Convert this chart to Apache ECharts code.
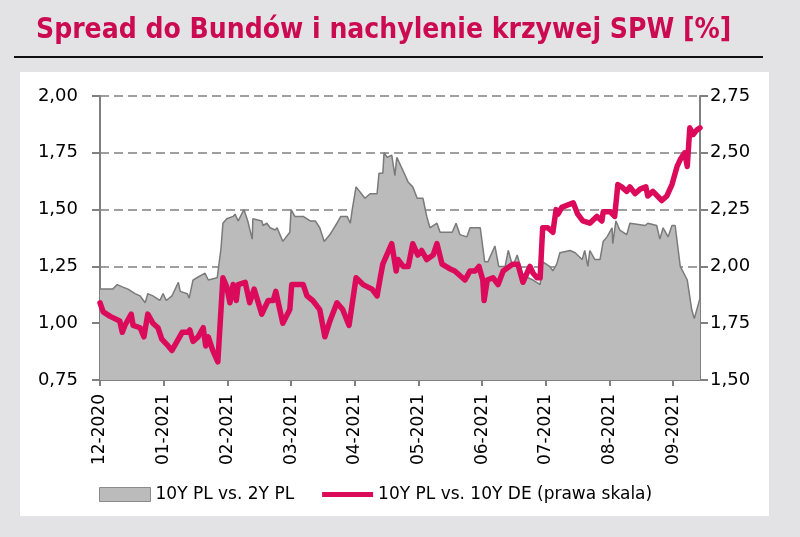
<!DOCTYPE html>
<html>
<head>
<meta charset="utf-8">
<script src="https://cdn.jsdelivr.net/npm/echarts@6/dist/echarts.min.js"></script>
<style>
  html, body { margin: 0; padding: 0; background: #e3e3e5; }
  #chart { width: 800px; height: 537px; }
</style>
</head>
<body>
<div id="chart"></div>
<script>
    // x positions in months since 1 Dec 2020
    var monthLabels = ['12-2020','01-2021','02-2021','03-2021','04-2021','05-2021','06-2021','07-2021','08-2021','09-2021'];

    // 10Y PL vs. 2Y PL (left axis)
    var slopeMonths = [0,0.20,0.27,0.35,0.44,0.55,0.63,0.71,0.75,0.83,0.94,0.99,1.04,1.13,1.23,1.26,1.37,1.40,1.46,1.52,
        1.65,1.70,1.84,1.90,1.93,1.99,2.09,2.12,2.17,2.26,2.32,2.39,2.40,2.54,2.56,2.62,2.67,2.75,2.78,2.87,
        2.98,3.00,3.06,3.19,3.30,3.38,3.45,3.52,3.61,3.72,3.78,3.88,3.93,3.96,4.02,4.16,4.24,4.35,4.38,4.44,
        4.46,4.51,4.58,4.63,4.66,4.76,4.84,4.91,4.98,5.07,5.13,5.18,5.29,5.34,5.53,5.59,5.65,5.76,5.81,5.97,
        6.04,6.09,6.20,6.26,6.36,6.41,6.48,6.55,6.63,6.72,6.80,6.91,6.95,7.06,7.11,7.17,7.22,7.38,7.46,7.57,
        7.61,7.66,7.69,7.77,7.85,7.90,7.96,8.04,8.05,8.10,8.16,8.27,8.32,8.56,8.60,8.74,8.79,8.84,8.92,8.98,
        9.03,9.11,9.22,9.25,9.29,9.33,9.42];
    var slopeValues = [1.15,1.15,1.17,1.16,1.15,1.13,1.12,1.09,1.13,1.12,1.10,1.13,1.10,1.12,1.18,1.14,1.13,1.11,1.19,1.20,
        1.22,1.19,1.20,1.33,1.44,1.46,1.47,1.48,1.45,1.50,1.45,1.37,1.46,1.45,1.43,1.44,1.42,1.41,1.42,1.36,
        1.40,1.50,1.47,1.47,1.45,1.45,1.42,1.36,1.39,1.44,1.47,1.47,1.44,1.50,1.60,1.55,1.57,1.57,1.66,1.66,
        1.75,1.73,1.74,1.65,1.73,1.67,1.62,1.60,1.55,1.55,1.47,1.42,1.44,1.40,1.40,1.44,1.39,1.38,1.42,1.42,
        1.27,1.27,1.34,1.25,1.25,1.32,1.25,1.30,1.22,1.20,1.19,1.17,1.27,1.25,1.23,1.26,1.31,1.32,1.31,1.28,
        1.32,1.25,1.32,1.28,1.28,1.36,1.38,1.42,1.35,1.45,1.41,1.39,1.44,1.43,1.44,1.43,1.37,1.42,1.38,1.43,
        1.43,1.25,1.19,1.19,1.06,1.02,1.11];

    // 10Y PL vs. 10Y DE (right axis)
    var bundMonths = [0,0.05,0.16,0.31,0.35,0.39,0.49,0.52,0.63,0.69,0.75,0.83,0.91,0.97,1.07,1.13,1.21,1.29,1.38,1.41,
        1.46,1.54,1.62,1.66,1.70,1.77,1.85,1.93,1.99,2.04,2.09,2.14,2.17,2.28,2.35,2.42,2.54,2.64,2.72,2.76,
        2.87,2.98,3.01,3.19,3.25,3.34,3.45,3.53,3.61,3.72,3.81,3.91,4.02,4.13,4.27,4.35,4.40,4.44,4.58,4.65,
        4.68,4.76,4.84,4.91,4.99,5.05,5.13,5.23,5.29,5.37,5.49,5.57,5.73,5.81,5.89,5.95,6.01,6.03,6.08,6.17,
        6.25,6.33,6.48,6.56,6.64,6.75,6.80,6.86,6.91,6.95,7.03,7.11,7.16,7.19,7.25,7.43,7.50,7.58,7.69,7.80,
        7.88,7.90,8.01,8.08,8.13,8.19,8.27,8.32,8.40,8.48,8.57,8.60,8.68,8.82,8.90,8.98,9.06,9.11,9.18,9.22,
        9.26,9.31,9.37,9.42];
    var bundValues = [1.84,1.80,1.78,1.76,1.71,1.74,1.79,1.74,1.73,1.69,1.79,1.75,1.73,1.68,1.65,1.63,1.67,1.71,1.71,1.72,
        1.67,1.69,1.73,1.65,1.69,1.63,1.58,1.95,1.91,1.84,1.92,1.85,1.92,1.93,1.84,1.90,1.79,1.85,1.85,1.89,
        1.75,1.81,1.92,1.92,1.87,1.85,1.81,1.69,1.76,1.84,1.81,1.74,1.95,1.92,1.90,1.87,1.95,2.01,2.10,1.98,
        2.03,2.00,2.00,2.10,2.05,2.07,2.03,2.05,2.10,2.01,1.99,1.98,1.94,1.98,1.98,2.00,1.94,1.85,1.94,1.95,
        1.92,1.98,2.01,2.01,1.93,2.00,1.97,1.95,1.95,2.17,2.17,2.15,2.25,2.23,2.26,2.28,2.23,2.20,2.19,2.22,
        2.20,2.24,2.24,2.22,2.36,2.35,2.33,2.35,2.32,2.34,2.35,2.31,2.33,2.29,2.31,2.36,2.44,2.47,2.50,2.44,
        2.61,2.58,2.60,2.61];

    var slopeName = '10Y PL vs. 2Y PL';
    var bundName = '10Y PL vs. 10Y DE (prawa skala)';
    var font = '"DejaVu Sans", sans-serif';
    var pink = '#dc0a5a';

    function pairs(xs, ys) {
        return xs.map(function (x, i) { return [x, ys[i]]; });
    }
    function comma(v) {
        return v.toFixed(2).replace('.', ',');
    }

    var myChart = echarts.init(document.getElementById('chart'));
    myChart.setOption({
        backgroundColor: '#e3e3e5',
        animation: false,
        title: {
            text: 'Spread do Bundów i nachylenie krzywej SPW [%]',
            left: 31,
            top: 12,
            textStyle: {
                color: '#cc0a52',
                fontFamily: '"DejaVu Sans Condensed", "DejaVu Sans", sans-serif',
                fontWeight: 'bold',
                fontSize: 28
            }
        },
        graphic: [
            {
                type: 'rect', z: -10, silent: true,
                shape: {x: 20, y: 72, width: 749, height: 444},
                style: {fill: '#ffffff'}
            },
            {
                type: 'line', silent: true,
                shape: {x1: 14, y1: 57, x2: 763, y2: 57},
                style: {stroke: '#111111', lineWidth: 2}
            }
        ],
        legend: {
            left: 94,
            top: 481,
            itemWidth: 51,
            itemHeight: 14,
            itemGap: 28,
            textStyle: {fontFamily: font, fontSize: 17, color: '#000'},
            data: [
                {name: slopeName, icon: 'rect', itemStyle: {color: '#bbbbbb', borderColor: '#8a8a8a', borderWidth: 1}},
                {name: bundName, icon: 'path://M0,0 L50,0 L50,5 L0,5 Z', itemStyle: {color: pink}}
            ]
        },
        grid: {left: 100, right: 100, top: 96, bottom: 157},
        xAxis: {
            type: 'value',
            min: 0,
            max: 9.42,
            interval: 1,
            splitLine: {show: false},
            axisLine: {lineStyle: {color: '#808080', width: 2}},
            axisTick: {show: true, length: 6, lineStyle: {color: '#808080', width: 2},
                customValues: [0,1,2,3,4,5,6,7,8,9]},
            axisLabel: {
                rotate: 90,
                margin: 14,
                color: '#000',
                fontFamily: font,
                fontSize: 17,
                customValues: [0,1,2,3,4,5,6,7,8,9],
                formatter: function (v) { return monthLabels[Math.round(v)] || ''; }
            }
        },
        yAxis: [
            {
                type: 'value',
                min: 0.75,
                max: 2.0,
                interval: 0.25,
                axisLine: {show: true, lineStyle: {color: '#808080', width: 2}},
                axisTick: {show: true, length: 8, lineStyle: {color: '#808080', width: 2}},
                splitLine: {lineStyle: {color: '#808080', type: [9, 5], width: 1.5}},
                axisLabel: {color: '#000', fontFamily: font, fontSize: 18, margin: 22, formatter: comma}
            },
            {
                type: 'value',
                min: 1.5,
                max: 2.75,
                interval: 0.25,
                position: 'right',
                axisLine: {show: true, lineStyle: {color: '#808080', width: 2}},
                axisTick: {show: true, length: 8, lineStyle: {color: '#808080', width: 2}},
                splitLine: {show: false},
                axisLabel: {color: '#000', fontFamily: font, fontSize: 18, margin: 10, formatter: comma}
            }
        ],
        series: [
            {
                name: slopeName,
                type: 'line',
                yAxisIndex: 0,
                symbol: 'none',
                data: pairs(slopeMonths, slopeValues),
                lineStyle: {color: '#7a7a7a', width: 1.5},
                itemStyle: {color: '#bbbbbb'},
                areaStyle: {color: '#bbbbbb', opacity: 1}
            },
            {
                name: bundName,
                type: 'line',
                yAxisIndex: 1,
                symbol: 'none',
                data: pairs(bundMonths, bundValues),
                lineStyle: {color: pink, width: 5.5, join: 'round', cap: 'round'},
                itemStyle: {color: pink}
            }
        ]
    });
</script>
</body>
</html>
